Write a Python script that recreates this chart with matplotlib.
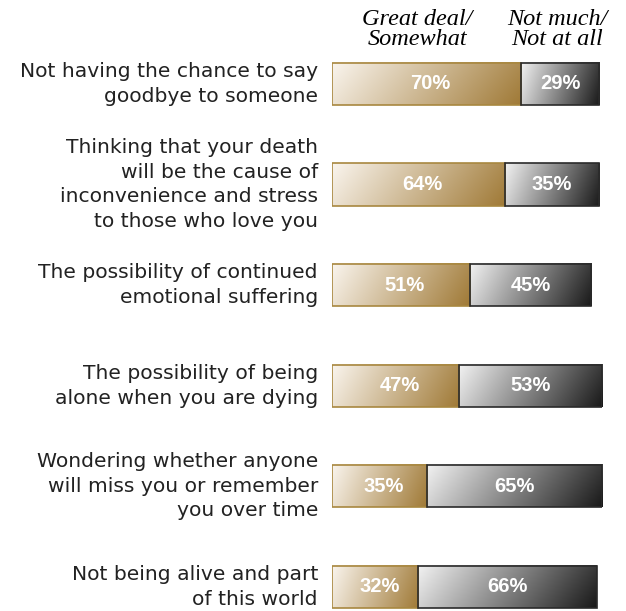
import numpy as np
import matplotlib.pyplot as plt
from matplotlib.patches import Rectangle

labels = [
    "Not having the chance to say\ngoodbye to someone",
    "Thinking that your death\nwill be the cause of\ninconvenience and stress\nto those who love you",
    "The possibility of continued\nemotional suffering",
    "The possibility of being\nalone when you are dying",
    "Wondering whether anyone\nwill miss you or remember\nyou over time",
    "Not being alive and part\nof this world",
]
great_deal = [70, 64, 51, 47, 35, 32]
not_much = [29, 35, 45, 53, 65, 66]
headers = ["Great deal/\nSomewhat", "Not much/\nNot at all"]

gold_light = np.array([250, 245, 238]) / 255
gold_dark = np.array([160, 122, 55]) / 255
gray_light = np.array([242, 242, 242]) / 255
gray_dark = np.array([25, 25, 25]) / 255


def gradient(c0, c1, n=200, m=20):
    xx = np.linspace(0, 1, n)[None, :]
    yy = np.linspace(0, 1, m)[:, None]
    t = np.clip(0.85 * xx + 0.15 * yy, 0, 1)
    return c0[None, None, :] * (1 - t[..., None]) + c1[None, None, :] * t[..., None]


fig = plt.figure(figsize=(6.26, 6.11), dpi=100)
ax = fig.add_axes([332 / 626, 0, 270 / 626, 1])
ax.set_xlim(0, 100)
ax.set_ylim(5.24, -0.835)
ax.axis("off")

h = 0.42
for i, (lab, g, n) in enumerate(zip(labels, great_deal, not_much)):
    y0, y1 = i - h / 2, i + h / 2
    ax.imshow(gradient(gold_light, gold_dark), extent=[0, g, y1, y0],
              aspect="auto", interpolation="bilinear", zorder=1)
    ax.add_patch(Rectangle((0, y0), g, h, fill=False, edgecolor="#a8873f", lw=1.2, zorder=2))
    ax.imshow(gradient(gray_light, gray_dark), extent=[g, g + n, y1, y0],
              aspect="auto", interpolation="bilinear", zorder=1)
    ax.add_patch(Rectangle((g, y0), n, h, fill=False, edgecolor="#2a2a2a", lw=1.2, zorder=2))
    ax.text(g / 2 + 1.5, i, f"{g}%", color="white", fontsize=14.5, fontweight="bold",
            family="Liberation Sans", ha="center", va="center", zorder=3)
    ax.text(g + n / 2, i, f"{n}%", color="white", fontsize=14.5, fontweight="bold",
            family="Liberation Sans", ha="center", va="center", zorder=3)
    ax.text(-5.2, i, lab, fontsize=14.6, ha="right", va="center", color="#222222",
            linespacing=1.38, family="DejaVu Sans", clip_on=False)

ax.text(31.5, -0.54, headers[0], fontsize=17.5, style="italic", family="Liberation Serif",
        ha="center", va="center", linespacing=0.92, clip_on=False)
ax.text(83.3, -0.54, headers[1], fontsize=17.5, style="italic", family="Liberation Serif",
        ha="center", va="center", linespacing=0.92, clip_on=False)

fig.savefig("out.png", dpi=100)
